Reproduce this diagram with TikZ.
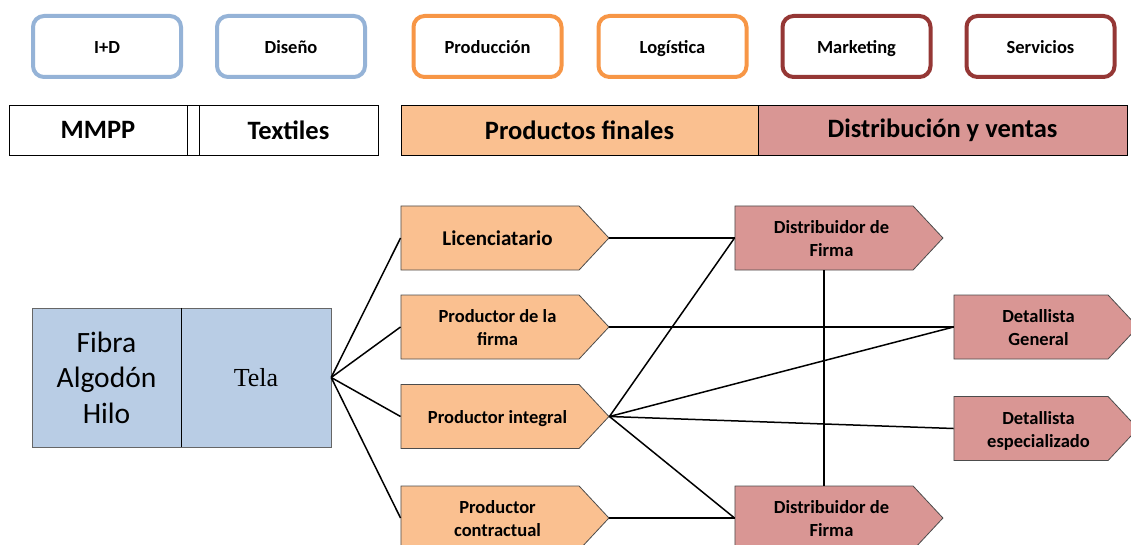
\documentclass[tikz,border=0pt]{standalone}
\usepackage{fontspec}
\setmainfont{Carlito}
\newfontfamily\timesfont{Liberation Serif}
\usetikzlibrary{shapes.symbols}
\definecolor{azulborde}{HTML}{95B3D7}
\definecolor{naranjaborde}{HTML}{F79646}
\definecolor{rojoborde}{HTML}{953735}
\definecolor{azulrelleno}{HTML}{B9CDE5}
\definecolor{naranjarelleno}{HTML}{FAC090}
\definecolor{rojorelleno}{HTML}{D99694}
% texto desplazado hacia la punta de la flecha
\newcommand{\textoflecha}[1]{\hspace*{15pt}\raisebox{0pt}[\dimexpr\height+5pt\relax][\depth]{\begin{tabular}{@{}c@{}}#1\end{tabular}}}
\begin{document}
\begin{tikzpicture}[x=1pt,y=-1pt,
		actividad/.style={draw,rounded corners=11pt,line width=4pt,fill=white,minimum width=148pt,minimum height=61pt,text height=15pt,text depth=1pt,font=\bfseries\fontsize{18.5}{22}\selectfont},
		cabecera/.style={draw,line width=0.8pt,minimum height=50pt,inner sep=0pt,font=\bfseries\fontsize{26.5}{30}\selectfont},
		flecha/.style={signal,signal to=east,signal pointer angle=94,draw=black!70,line width=0.8pt,minimum height=64pt,inner sep=0pt,font=\bfseries\fontsize{18.5}{23}\selectfont},
		enlace/.style={line width=1.5pt}]
		\useasboundingbox (0,0) rectangle (1131,545);

		% Actividades de apoyo
		\node[actividad,draw=azulborde] (id) at (107,46.5) {I+D};
		\node[actividad,draw=azulborde] (diseno) at (291,46.5) {Diseño};
		\node[actividad,draw=naranjaborde] (produccion) at (487.5,46.5) {Producción};
		\node[actividad,draw=naranjaborde] (logistica) at (672.5,46.5) {Logística};
		\node[actividad,draw=rojoborde] (marketing) at (856.5,46.5) {Marketing};
		\node[actividad,draw=rojoborde] (servicios) at (1040.5,46.5) {Servicios};

		% Etapas de la cadena
		\node[cabecera,minimum width=178pt] (mmpp) at (98,130) {MMPP};
		\node[cabecera,minimum width=12pt] (separador) at (193,130) {};
		\node[cabecera,minimum width=179pt] (textiles) at (288.5,130) {Textiles};
		\node[cabecera,minimum width=357pt,fill=naranjarelleno] (finales) at (579.5,130) {Productos finales};
		\node[cabecera,minimum width=369pt,fill=rojorelleno] (ventas) at (942.5,130) {Distribución y ventas};

		% Materias primas
		\node[draw=black!60,fill=azulrelleno,minimum width=149pt,minimum height=139pt,inner sep=0pt,align=center,font=\fontsize{29.5}{35.5}\selectfont] (fibra) at (106.5,377.5) {Fibra\\Algodón\\Hilo};
		\node[draw=black!60,fill=azulrelleno,minimum width=150pt,minimum height=139pt,inner sep=0pt,font=\timesfont\fontsize{26}{30}\selectfont] (tela) at (256,377.5) {Tela};
		\draw[line width=0.8pt] (fibra.north east) -- (fibra.south east);

		% Productores
		\node[flecha,fill=naranjarelleno,minimum width=208pt,font=\bfseries\fontsize{21}{25}\selectfont] (licenciatario) at (490,238) {\textoflecha{Licenciatario}};
		\node[flecha,fill=naranjarelleno,minimum width=208pt] (firma) at (490,327) {\textoflecha{Productor de la\\firma}};
		\node[flecha,fill=naranjarelleno,minimum width=208pt] (integral) at (490,416.5) {\textoflecha{Productor integral}};
		\node[flecha,fill=naranjarelleno,minimum width=208pt] (contractual) at (490,518) {\textoflecha{Productor\\contractual}};

		% Distribuidores y detallistas
		\node[flecha,fill=rojorelleno,minimum width=208pt] (distA) at (824,238) {\textoflecha{Distribuidor de\\Firma}};
		\node[flecha,fill=rojorelleno,minimum width=208pt] (distB) at (824,518) {\textoflecha{Distribuidor de\\Firma}};
		\node[flecha,fill=rojorelleno,minimum width=184pt] (general) at (1031,327) {\textoflecha{Detallista\\General}};
		\node[flecha,fill=rojorelleno,minimum width=184pt] (especializado) at (1031,428.5) {\textoflecha{Detallista\\especializado}};

		% Conexiones
		\foreach \destino in {licenciatario,firma,integral,contractual}
			\draw[enlace] (tela.east) -- (\destino.west);
		\draw[enlace] (licenciatario.east) -- (distA.west);
		\draw[enlace] (firma.east) -- (general.west);
		\foreach \destino in {distA,general,especializado,distB}
			\draw[enlace] (integral.east) -- (\destino.west);
		\draw[enlace] (contractual.east) -- (distB.west);
		\draw[enlace] (distA.south) -- (distB.north);
	\end{tikzpicture}
\end{document}
